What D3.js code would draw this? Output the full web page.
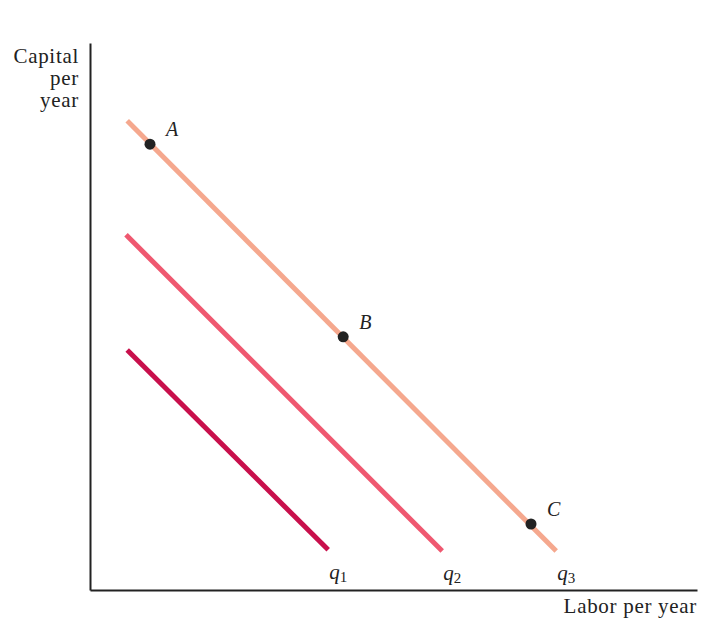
<!DOCTYPE html>
<html>
<head>
<meta charset="utf-8">
<script src="https://cdn.jsdelivr.net/npm/d3@7"></script>
<style>
  body { margin: 0; background: #fff; }
  svg text { font-family: "Liberation Serif", "DejaVu Serif", serif; fill: #222; }
</style>
</head>
<body>
<svg id="chart" width="702" height="621"></svg>
<script>
// Isoquant lines (labor, capital) endpoints
const isoquantNames = ["q1", "q2", "q3"];
const isoquantSub = ["1", "2", "3"];
const isoquantStart = [[6.2, 40.0], [6.0, 59.2], [6.2, 78.2]];
const isoquantEnd = [[39.7, 6.7], [58.7, 6.5], [77.7, 6.5]];
const isoquantColors = ["#c8104c", "#ef5870", "#f5a88e"];

// Points
const pointNames = ["A", "B", "C"];
const pointLabor = [10.0, 42.2, 73.5];
const pointCapital = [74.3, 42.2, 11.0];

const xTitle = "Labor per year";
const yTitle = ["Capital", "per", "year"];

const svg = d3.select("#chart");
const x = d3.scaleLinear().domain([0, 101.17]).range([90, 697]);
const y = d3.scaleLinear().domain([0, 91.17]).range([590, 43]);

svg.append("g").attr("transform", `translate(0,${y(0)})`)
  .call(d3.axisBottom(x).tickValues([]).tickSizeOuter(0))
  .select(".domain").attr("stroke", "#222").attr("stroke-width", 2);
svg.append("g").attr("transform", `translate(${x(0)},0)`)
  .call(d3.axisLeft(y).tickValues([]).tickSizeOuter(0))
  .select(".domain").attr("stroke", "#222").attr("stroke-width", 2);

const line = d3.line().x(d => x(d[0])).y(d => y(d[1]));
isoquantNames.forEach((n, i) => {
  svg.append("path")
    .attr("d", line([isoquantStart[i], isoquantEnd[i]]))
    .attr("stroke", isoquantColors[i])
    .attr("stroke-width", 5)
    .attr("fill", "none");
  const t = svg.append("text")
    .attr("x", x(isoquantEnd[i][0]) + 1)
    .attr("y", y(isoquantEnd[i][1]) + 29)
    .attr("font-size", 21);
  t.append("tspan").attr("font-style", "italic").text("q");
  t.append("tspan").attr("font-size", 15).attr("dy", 3).text(isoquantSub[i]);
});

pointNames.forEach((n, i) => {
  svg.append("circle")
    .attr("cx", x(pointLabor[i]))
    .attr("cy", y(pointCapital[i]))
    .attr("r", 5.5)
    .attr("fill", "#222");
  svg.append("text")
    .attr("x", x(pointLabor[i]) + 16)
    .attr("y", y(pointCapital[i]) - 8)
    .attr("font-size", 20)
    .attr("font-style", "italic")
    .text(n);
});

svg.append("text")
  .attr("x", 697).attr("y", 613)
  .attr("text-anchor", "end")
  .attr("font-size", 21)
  .attr("letter-spacing", 0.7)
  .text(xTitle);

yTitle.forEach((s, i) => {
  svg.append("text")
    .attr("x", 79).attr("y", 63 + i * 22)
    .attr("text-anchor", "end")
    .attr("font-size", 21)
    .attr("letter-spacing", 0.7)
    .text(s);
});
</script>
</body>
</html>
